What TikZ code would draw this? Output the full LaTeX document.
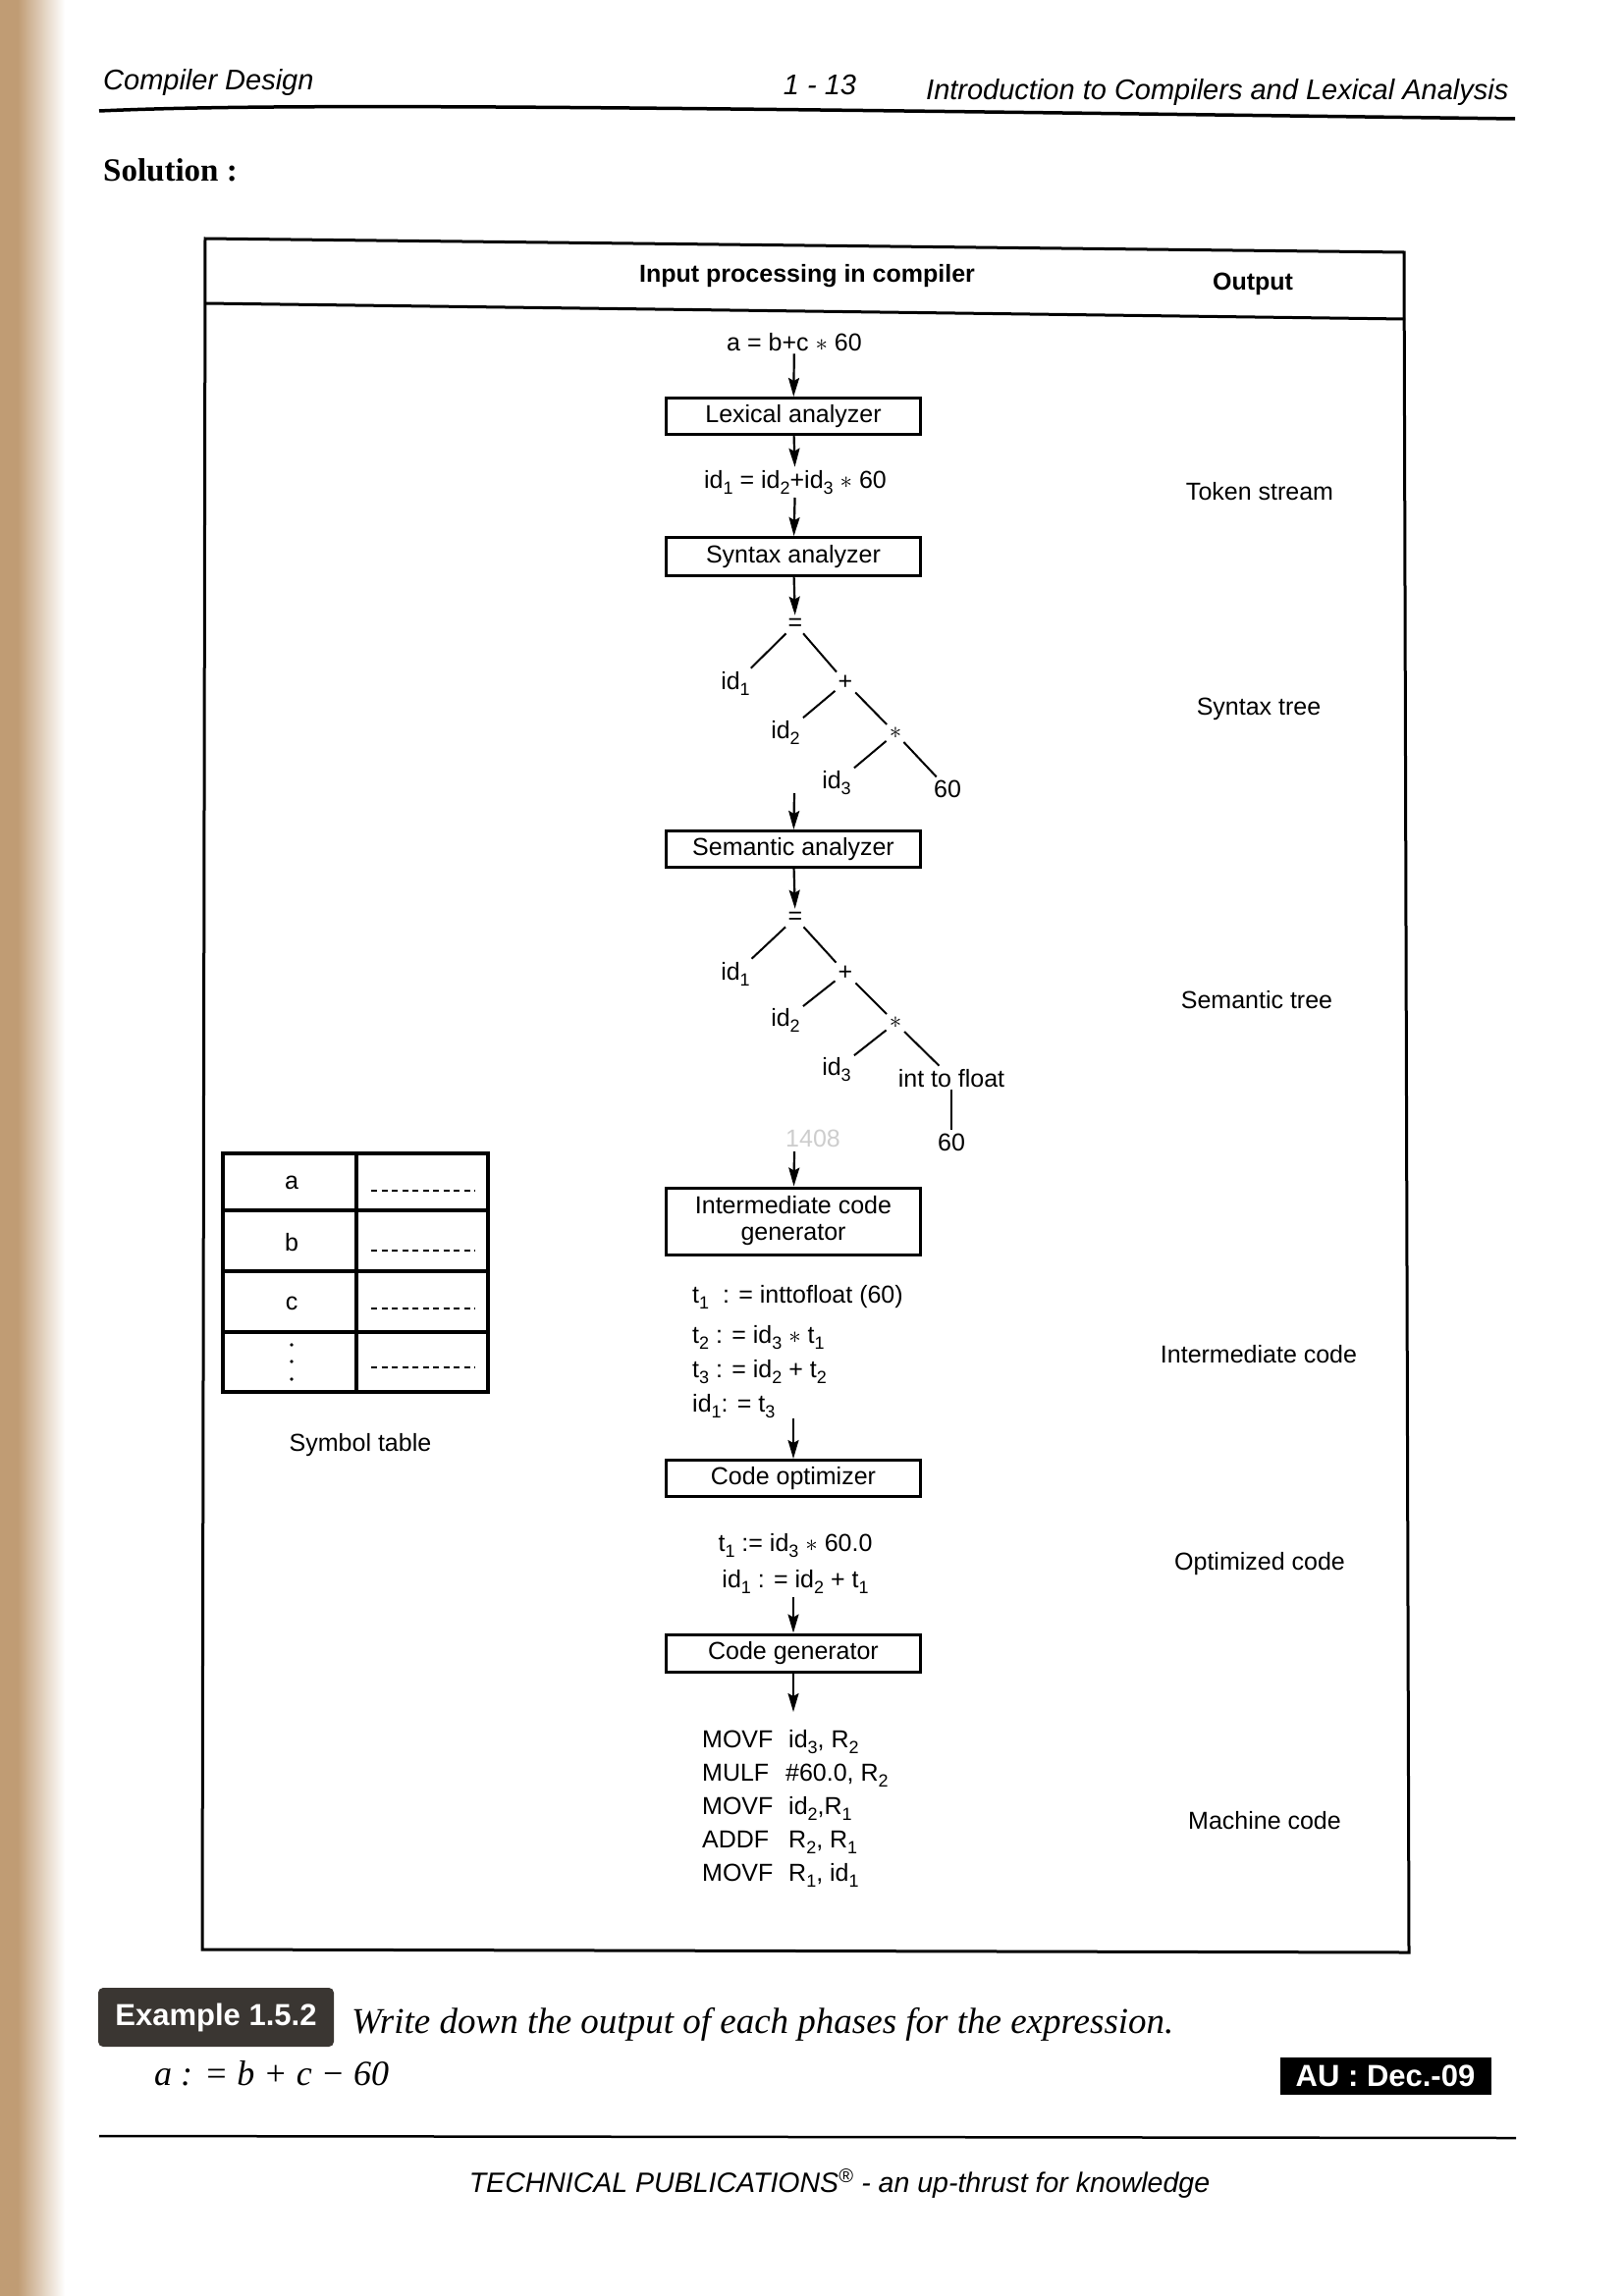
\documentclass[tikz,border=0pt]{standalone}
\usepackage{fontspec}
\setmainfont{Liberation Sans}
\newfontfamily\bookserif{Liberation Serif}
\usetikzlibrary{arrows.meta}

\definecolor{bindtan}{RGB}{192,156,116}
\definecolor{badgegray}{RGB}{58,54,50}
\definecolor{faintgray}{RGB}{205,205,205}

% lowered, smaller subscript digits in the sans text
\newcommand{\sbs}[1]{\raisebox{-0.5ex}{\fontsize{18}{18}\selectfont #1}}
\newcommand{\sz}[1]{\fontsize{#1}{#1}\selectfont}

\begin{document}
\begin{tikzpicture}[x=1pt,y=-1pt,
  lbl/.style={inner sep=3pt, font=\sz{25}},
  phase/.style={draw, line width=3pt, minimum width=259pt, minimum height=37pt,
                inner sep=0pt, align=center, font=\sz{25}},
  flow/.style={line width=2.2pt, -{Stealth[length=19pt,width=11pt,inset=3pt]}},
  branch/.style={line width=2pt},
  outlbl/.style={inner sep=0pt, font=\sz{25}},
  codeline/.style={inner sep=0pt, font=\sz{25}, anchor=base west},
  frame/.style={line width=3pt},
  grid/.style={line width=3.5pt},
  dotrule/.style={line width=2pt, dash pattern=on 6pt off 4.5pt},
]
\useasboundingbox (0,0) rectangle (1653,2339);

% binding shadow along the left edge
\fill[bindtan] (0,0) rectangle (18,2339);
\shade[left color=bindtan, right color=white] (18,0) rectangle (66,2339);

% running head
\node[anchor=base west, inner sep=0pt, font=\sz{29}\itshape] (hdl) at (105,92) {Compiler Design};
\node[anchor=base, inner sep=0pt, font=\sz{29}\itshape] (hdc) at (835,97) {1 - 13};
\node[anchor=base west, inner sep=0pt, font=\sz{29}\itshape] (hdr) at (943,102) {Introduction to Compilers and Lexical Analysis};
\draw[line width=3.5pt] (101,113) .. controls (300,104) and (700,110) .. (1543,121);

\node[anchor=base west, inner sep=0pt, font=\bookserif\bfseries\sz{33}] (sol) at (105,184) {Solution :};

% table frame
\draw[frame] (209,243) -- (1430,257) -- (1435,1989) -- (206,1986) -- cycle;
\draw[frame] (209,309) -- (1431,325);
\node[font=\bfseries\sz{25}] (colin) at (822,281) {Input processing in compiler};
\node[font=\bfseries\sz{25}] (colout) at (1276,289) {Output};

% phases
\node[lbl, anchor=base] (src) at (809,357) {a = b+c $\ast$ 60};
\node[phase] (lex) at (808,424) {Lexical analyzer};
\node[lbl, anchor=base] (tok) at (810,497) {id\sbs{1} = id\sbs{2}+id\sbs{3} $\ast$ 60};
\node[phase, minimum height=39pt] (syn) at (808,567) {Syntax analyzer};
\draw[flow] (src) -- (lex);
\draw[flow] (lex) -- (tok);
\draw[flow] (tok) -- (syn);

% syntax tree
\node[lbl] (eqA) at (810,636) {=};
\node[lbl, anchor=base] (idA1) at (749,702) {id\sbs{1}};
\node[lbl] (plusA) at (861,695) {+};
\node[lbl, anchor=base] (idA2) at (800,752) {id\sbs{2}};
\node[lbl] (starA) at (912,747) {$\ast$};
\node[lbl, anchor=base] (idA3) at (852,803) {id\sbs{3}};
\node[lbl, anchor=base] (numA) at (965,812) {60};
\draw[flow] (syn) -- (eqA);
\draw[branch] (eqA) -- (idA1);
\draw[branch] (eqA) -- (plusA);
\draw[branch] (plusA) -- (idA2);
\draw[branch] (plusA) -- (starA);
\draw[branch] (starA) -- (idA3);
\draw[branch] (starA) -- (numA);

\node[phase] (sem) at (808,865) {Semantic analyzer};
\coordinate (treeAend) at (809,808);
\draw[flow] (treeAend) -- (sem);

% semantic tree
\node[lbl] (eqB) at (810,935) {=};
\node[lbl, anchor=base] (idB1) at (749,998) {id\sbs{1}};
\node[lbl] (plusB) at (861,991) {+};
\node[lbl, anchor=base] (idB2) at (800,1045) {id\sbs{2}};
\node[lbl] (starB) at (912,1042) {$\ast$};
\node[lbl, anchor=base] (idB3) at (852,1095) {id\sbs{3}};
\node[lbl, anchor=base] (conv) at (969,1107) {int to float};
\node[lbl, anchor=base] (numB) at (969,1172) {60};
\node[lbl, anchor=base, text=faintgray] (pageno) at (828,1168) {1408};
\draw[flow] (sem) -- (eqB);
\draw[branch] (eqB) -- (idB1);
\draw[branch] (eqB) -- (plusB);
\draw[branch] (plusB) -- (idB2);
\draw[branch] (plusB) -- (starB);
\draw[branch] (starB) -- (idB3);
\draw[branch] (starB) -- (conv);
\draw[branch] (conv) -- (numB);

\node[phase, minimum height=68pt, font=\fontsize{25}{27}\selectfont] (icg) at (808,1244) {Intermediate code\\generator};
\coordinate (treeBend) at (809,1173);
\draw[flow] (treeBend) -- (icg);

% three-address code
\node[codeline] (ic1) at (705,1327) {t\sbs{1}\ \ : = inttofloat (60)};
\node[codeline] (ic2) at (705,1368) {t\sbs{2} : = id\sbs{3} $\ast$ t\sbs{1}};
\node[codeline] (ic3) at (705,1403) {t\sbs{3} : = id\sbs{2} + t\sbs{2}};
\node[codeline] (ic4) at (705,1438) {id\sbs{1}: = t\sbs{3}};

\node[phase] (opt) at (808,1506) {Code optimizer};
\draw[flow] (ic4.south -| opt.north) -- (opt);

\node[lbl, anchor=base] (oc1) at (810,1580) {t\sbs{1} := id\sbs{3} $\ast$ 60.0};
\node[lbl, anchor=base] (oc2) at (810,1617) {id\sbs{1} : = id\sbs{2} + t\sbs{1}};

\node[phase, minimum height=38pt] (cg) at (808,1684) {Code generator};
\draw[flow] (oc2.south -| cg.north) -- (cg);
\coordinate (mctop) at (808,1744);
\draw[flow] (cg) -- (mctop);

% target code
\node[codeline] (mc1) at (715,1780) {\makebox[88pt][l]{MOVF}id\sbs{3}, R\sbs{2}};
\node[codeline] (mc2) at (715,1814) {\makebox[85pt][l]{MULF}\#60.0, R\sbs{2}};
\node[codeline] (mc3) at (715,1848) {\makebox[88pt][l]{MOVF}id\sbs{2},R\sbs{1}};
\node[codeline] (mc4) at (715,1882) {\makebox[88pt][l]{ADDF}R\sbs{2}, R\sbs{1}};
\node[codeline] (mc5) at (715,1916) {\makebox[88pt][l]{MOVF}R\sbs{1}, id\sbs{1}};

% output column
\node[outlbl] (outtok) at (1283,501) {Token stream};
\node[outlbl] (outsyn) at (1282,722) {Syntax tree};
\node[outlbl] (outsem) at (1280,1019) {Semantic tree};
\node[outlbl] (outic) at (1282,1380) {Intermediate code};
\node[outlbl] (outopt) at (1283,1593) {Optimized code};
\node[outlbl] (outmc) at (1288,1855) {Machine code};

% symbol table
\draw[grid] (227,1175) rectangle (497,1418);
\draw[grid] (363,1175) -- (363,1418);
\foreach \yy in {1233,1295,1357} \draw[grid] (227,\yy) -- (497,\yy);
\node[lbl] (syma) at (297,1205) {a};
\node[lbl] (symb) at (297,1266) {b};
\node[lbl] (symc) at (297,1328) {c};
\foreach \yy in {1370,1387,1405} \fill (297,\yy) circle (1.8pt);
\foreach \yy in {1213,1274,1333,1393} \draw[dotrule] (378,\yy) -- (484,\yy);
\node[lbl] (symcap) at (367,1472) {Symbol table};

% example statement
\node[fill=badgegray, rounded corners=5pt, text=white, font=\bfseries\sz{31},
      minimum width=240pt, minimum height=60pt, inner sep=0pt] (exbadge) at (220,2055) {Example 1.5.2};
\node[anchor=base west, inner sep=0pt, font=\bookserif\itshape\sz{37}] (extext) at (358,2071) {Write down the output of each phases for the expression.};
\node[anchor=base west, inner sep=0pt, font=\bookserif\itshape\sz{36}] (exexpr) at (157,2124) {a : = b + c − 60};
\node[fill=black, text=white, font=\bfseries\sz{31},
      minimum width=215pt, minimum height=38pt, inner sep=0pt] (aubadge) at (1411,2115) {AU : Dec.-09};

% running foot
\draw[line width=2.5pt] (101,2176) -- (1544,2178);
\node[anchor=base, inner sep=0pt, font=\itshape\sz{28.5}] (foot) at (855,2233) {TECHNICAL PUBLICATIONS\textsuperscript{®} - an up-thrust for knowledge};
\end{tikzpicture}
\end{document}
